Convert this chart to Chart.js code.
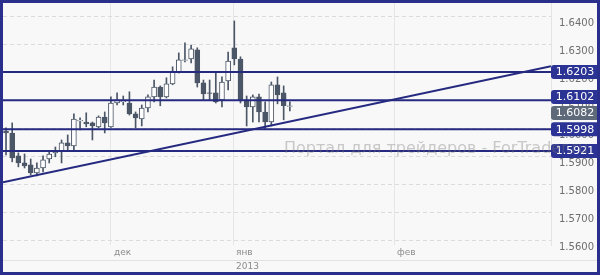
<!DOCTYPE html>
<html>
<head>
<meta charset="utf-8">
<script src="https://cdn.jsdelivr.net/npm/chart.js@4.4.0/dist/chart.umd.min.js"></script>
<style>
  body { margin: 0; }
  #frame { width: 600px; height: 275px; box-sizing: border-box; border: 3px solid #2a2f8c; background: #f8f8f8; }
  canvas { display: block; }
</style>
</head>
<body>
<div id="frame"><canvas id="chart-gbp" width="594" height="269"></canvas></div>
<script>
// Data Start
const candleOpen = [1.5992, 1.5985, 1.5903, 1.5878, 1.5871, 1.5842, 1.5860, 1.5892, 1.5914, 1.5921,
    1.5950, 1.5939, 1.6028, 1.6024, 1.6021, 1.6007, 1.6042, 1.6007, 1.6092, 1.6097,
    1.6092, 1.6053, 1.6035, 1.6074, 1.6114, 1.6149, 1.6114, 1.6160, 1.6203, 1.6244,
    1.6249, 1.6282, 1.6164, 1.6128, 1.6128, 1.6103, 1.6171, 1.6289, 1.6249, 1.6103,
    1.6078, 1.6114, 1.6060, 1.6024, 1.6157, 1.6128, 1.6080];
const candleHigh = [1.6003, 1.6021, 1.5914, 1.5910, 1.5892, 1.5878, 1.5903, 1.5917, 1.5935, 1.5960,
    1.5978, 1.6053, 1.6039, 1.6057, 1.6024, 1.6046, 1.6060, 1.6114, 1.6128, 1.6117,
    1.6132, 1.6060, 1.6085, 1.6121, 1.6174, 1.6153, 1.6182, 1.6221, 1.6271, 1.6307,
    1.6299, 1.6289, 1.6174, 1.6174, 1.6199, 1.6185, 1.6274, 1.6385, 1.6257, 1.6117,
    1.6121, 1.6124, 1.6096, 1.6167, 1.6185, 1.6153, 1.6096];
const candleLow = [1.5907, 1.5882, 1.5864, 1.5860, 1.5835, 1.5832, 1.5846, 1.5878, 1.5900, 1.5878,
    1.5925, 1.5925, 1.5996, 1.6007, 1.5960, 1.6003, 1.5985, 1.6005, 1.6085, 1.6085,
    1.6049, 1.6003, 1.6010, 1.6060, 1.6096, 1.6082, 1.6110, 1.6157, 1.6199, 1.6239,
    1.6235, 1.6149, 1.6103, 1.6103, 1.6092, 1.6078, 1.6139, 1.6228, 1.6092, 1.6010,
    1.6024, 1.6024, 1.5999, 1.6010, 1.6089, 1.6032, 1.6064];
const candleClose = [1.5985, 1.5896, 1.5878, 1.5867, 1.5842, 1.5860, 1.5889, 1.5910, 1.5921, 1.5950,
    1.5939, 1.6035, 1.6030, 1.6017, 1.6010, 1.6042, 1.6021, 1.6092, 1.6103, 1.6099,
    1.6053, 1.6039, 1.6074, 1.6114, 1.6149, 1.6114, 1.6160, 1.6203, 1.6246, 1.6246,
    1.6285, 1.6164, 1.6124, 1.6126, 1.6096, 1.6167, 1.6242, 1.6249, 1.6103, 1.6078,
    1.6114, 1.6060, 1.6024, 1.6157, 1.6121, 1.6082, 1.6082];

const levelValues = [1.6203, 1.6102, 1.5998, 1.5921];
const lastPrice = 1.6082;
const trendValues = [1.5809, 1.6223];
const priceTicks = [1.56, 1.57, 1.58, 1.59, 1.60, 1.61, 1.62, 1.63, 1.64];
const monthTicks = [17, 36.8, 62.9];
const monthLabels = ["дек", ["янв", "2013"], "фев"];
// Data End

const xMin = -0.49;
const xMax = 88.33;
const yMin = 1.5585;
const yMax = 1.6449;

const navy = "#252a80";
const candleColor = "#4b5667";

const idx = candleOpen.map((_, i) => i);

// Price tags + watermark
const tagsPlugin = {
    id: "priceTags",
    afterDraw(chart) {
        const ctx = chart.ctx;
        const yScale = chart.scales.y;
        const area = chart.chartArea;

        ctx.save();
        ctx.strokeStyle = "#e2e2e2";
        ctx.lineWidth = 1;
        ctx.beginPath();
        ctx.moveTo(0, 257.5);
        ctx.lineTo(chart.width, 257.5);
        ctx.stroke();

        const tags = levelValues.map((v) => ({ value: v, color: "#2b3394" }));
        tags.push({ value: lastPrice, color: "#5e6a7a" });
        tags.forEach((t) => (t.y = yScale.getPixelForValue(t.value)));
        tags.sort((a, b) => a.y - b.y);
        for (let k = 0; k < 10; k++) {
            for (let i = 1; i < tags.length; i++) {
                const gap = tags[i].y - tags[i - 1].y;
                if (gap < 16) {
                    const d = 16 - gap;
                    tags[i - 1].y -= d * 0.3;
                    tags[i].y += d * 0.7;
                }
            }
        }

        ctx.font = '11px "DejaVu Sans"';
        ctx.textAlign = "center";
        ctx.textBaseline = "middle";
        tags.forEach((t) => {
            ctx.fillStyle = t.color;
            ctx.beginPath();
            ctx.roundRect(area.right, t.y - 7, 52, 14, 3);
            ctx.fill();
            ctx.fillStyle = "#ffffff";
            ctx.fillText(t.value.toFixed(4), area.right + 24, t.y + 0.5);
        });

        // watermark
        ctx.font = '16px "DejaVu Sans"';
        ctx.textAlign = "left";
        ctx.textBaseline = "alphabetic";
        ctx.fillStyle = "rgba(120,120,120,0.38)";
        ctx.fillText("Портал для трейдеров - ForTrader.ru", 281, 150);
        ctx.restore();
    },
};

const lineSets = levelValues.map((v) => ({
    type: "line",
    data: [{ x: xMin, y: v }, { x: xMax, y: v }],
    borderColor: navy,
    borderWidth: 2,
    pointRadius: 0,
    order: 0,
}));
lineSets.push({
    type: "line",
    data: [{ x: xMin, y: trendValues[0] }, { x: xMax, y: trendValues[1] }],
    borderColor: navy,
    borderWidth: 2,
    pointRadius: 0,
    order: 0,
});

new Chart(document.getElementById("chart-gbp"), {
    type: "bar",
    data: {
        datasets: [
            {
                data: idx.map((i) => ({ x: i, y: [Math.min(candleOpen[i], candleClose[i]), Math.max(candleOpen[i], candleClose[i])] })),
                backgroundColor: idx.map((i) => (candleClose[i] < candleOpen[i] ? candleColor : "#ffffff")),
                borderColor: candleColor,
                borderWidth: 1,
                borderSkipped: false,
                barThickness: 5,
                grouped: false,
                order: 1,
            },
            {
                data: idx.map((i) => ({ x: i, y: [candleLow[i], candleHigh[i]] })),
                backgroundColor: candleColor,
                borderWidth: 0,
                barThickness: 1,
                grouped: false,
                order: 2,
            },
            ...lineSets,
        ],
    },
    options: {
        responsive: false,
        animation: false,
        layout: { padding: 0 },
        plugins: {
            legend: { display: false },
            tooltip: { enabled: false },
        },
        scales: {
            x: {
                type: "linear",
                min: xMin,
                max: xMax,
                offset: false,
                afterBuildTicks: (scale) => {
                    scale.ticks = monthTicks.map((v) => ({ value: v }));
                },
                afterFit: (scale) => {
                    scale.height = 27;
                    scale.paddingLeft = 0;
                    scale.paddingRight = 0;
                },
                ticks: {
                    callback: (value, index) => monthLabels[index],
                    align: "start",
                    labelOffset: 3,
                    padding: 1,
                    autoSkip: false,
                    maxRotation: 0,
                    color: "#8c8c8c",
                    font: { family: "DejaVu Sans", size: 9, lineHeight: 1.5 },
                },
                grid: { color: "#e6e6e6", drawTicks: false, offset: false },
                border: { display: false },
            },
            y: {
                position: "right",
                min: yMin,
                max: yMax,
                afterBuildTicks: (scale) => {
                    scale.ticks = priceTicks.map((v) => ({ value: v }));
                },
                afterFit: (scale) => {
                    scale.width = 46;
                    scale.paddingTop = 0;
                    scale.paddingBottom = 0;
                },
                ticks: {
                    callback: (value) => value.toFixed(4),
                    labelOffset: 7,
                    padding: 8,
                    color: "#6e6e6e",
                    font: { family: "DejaVu Sans", size: 10 },
                },
                grid: { color: "#dcdcdc", drawTicks: false },
                border: { display: true, color: "#e4e4e4", dash: [4, 3] },
            },
        },
    },
    plugins: [tagsPlugin],
});
</script>
</body>
</html>
